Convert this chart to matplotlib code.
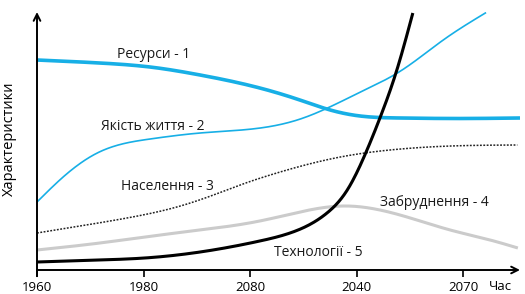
import numpy as np
import matplotlib
matplotlib.use('Agg')
import matplotlib.pyplot as plt

plt.rcParams['font.family'] = ['Open Sans', 'DejaVu Sans']

# tick positions / labels (labels as printed in the original)
tick_pos = [0, 20, 40, 60, 80]
tick_labels = ['1960', '1980', '2080', '2040', '2070']

# curves (x in tick units, y in arbitrary units)
res_x = [0, 11.8, 21.2, 30.6, 41.8, 49.3, 55.0, 60.6, 68.1, 77.5, 90.6]
res_y = [210, 207, 203, 195, 182, 170, 160, 154, 152, 151.5, 152]

life_x = [0, 4.9, 11.3, 21.2, 30.6, 41.9, 49.4, 54.5, 60.7, 68.2, 76.2, 84.1]
life_y = [68, 93, 117, 131, 137, 142, 151, 162, 178, 199, 230, 257]

pop_x = [0, 8.1, 16.9, 26.9, 33.1, 38.1, 45.6, 56.9, 68.2, 77.6, 90.1]
pop_y = [37, 44, 52, 64, 75, 85, 98, 113, 121, 124, 125]

pol_x = [0, 11.8, 20.2, 30.6, 41.8, 49.3, 57.5, 68.1, 77.5, 85.0, 90.2]
pol_y = [20, 27, 33, 40, 49, 58, 64, 55, 40, 30, 22]

tech_x = [0, 11.8, 20.2, 30.6, 41.8, 48.0, 54.4, 58.2, 61.9, 64.4, 67.5, 70.5]
tech_y = [8, 10, 12, 18, 29, 38, 57, 80, 120, 153, 200, 257]


def spline(x, y, n=400):
    # natural cubic spline through the read points, only to draw a smooth line
    x = np.asarray(x, float)
    y = np.asarray(y, float)
    k = len(x)
    h = np.diff(x)
    A = np.zeros((k, k))
    b = np.zeros(k)
    A[0, 0] = A[-1, -1] = 1
    for i in range(1, k - 1):
        A[i, i - 1] = h[i - 1]
        A[i, i] = 2 * (h[i - 1] + h[i])
        A[i, i + 1] = h[i]
        b[i] = 6 * ((y[i + 1] - y[i]) / h[i] - (y[i] - y[i - 1]) / h[i - 1])
    M = np.linalg.solve(A, b)
    xs = np.linspace(x[0], x[-1], n)
    j = np.clip(np.searchsorted(x, xs) - 1, 0, k - 2)
    a = x[j + 1] - xs
    c = xs - x[j]
    hj = h[j]
    ys = (M[j] * a**3 / (6 * hj) + M[j + 1] * c**3 / (6 * hj)
          + (y[j] / hj - M[j] * hj / 6) * a + (y[j + 1] / hj - M[j + 1] * hj / 6) * c)
    return xs, ys


blue = '#17afe6'

fig = plt.figure(figsize=(5.25, 2.94), dpi=100)
ax = fig.add_axes([37 / 525, 24 / 294, 483 / 525, 258 / 294])
ax.set_xlim(0, 90.6)
ax.set_ylim(0, 258)

ax.plot(*spline(pol_x, pol_y), color='#cbcbcb', lw=2.2, solid_capstyle='butt')
ax.plot(*spline(pop_x, pop_y), color='#222222', lw=1.1, ls=(0, (1.2, 1.0)))
ax.plot(*spline(res_x, res_y), color=blue, lw=2.6, solid_capstyle='butt')
ax.plot(*spline(life_x, life_y), color=blue, lw=1.2)
ax.plot(*spline(tech_x, tech_y), color='black', lw=2.2, solid_capstyle='butt')

fs = 10
tc = '#1a1a1a'
ax.text(21.9, 216, 'Ресурси - 1', ha='center', va='center', fontsize=fs, color=tc)
ax.text(21.8, 144, 'Якість життя - 2', ha='center', va='center', fontsize=fs, color=tc)
ax.text(24.4, 83, 'Населення - 3', ha='center', va='center', fontsize=fs, color=tc)
ax.text(74.5, 68, 'Забруднення - 4', ha='center', va='center', fontsize=fs, color=tc)
ax.text(52.7, 17, 'Технології - 5', ha='center', va='center', fontsize=fs, color=tc)

for s in ax.spines.values():
    s.set_visible(False)

# axes with open arrowheads
ax.annotate('', xy=(0, 1.0), xytext=(0, -0.024), xycoords='axes fraction',
            arrowprops=dict(arrowstyle='->', lw=1.4, color='black',
                            shrinkA=0, shrinkB=0, mutation_scale=12))
ax.annotate('', xy=(1.0, 0), xytext=(0, 0), xycoords='axes fraction',
            arrowprops=dict(arrowstyle='->', lw=1.4, color='black',
                            shrinkA=0, shrinkB=0, mutation_scale=12))

ax.set_xticks(tick_pos)
ax.set_xticklabels(tick_labels)
ax.set_yticks([])
ax.tick_params(axis='x', direction='out', length=5, width=1.2, pad=3,
               labelsize=9.5, colors='black')
ax.text(86.9, -17, 'Час', ha='center', va='center', fontsize=9.5, clip_on=False)

ax.set_ylabel('Характеристики', fontsize=10.5)
ax.yaxis.set_label_coords(-0.041, 0.51)

fig.savefig('out.png', dpi=100)
